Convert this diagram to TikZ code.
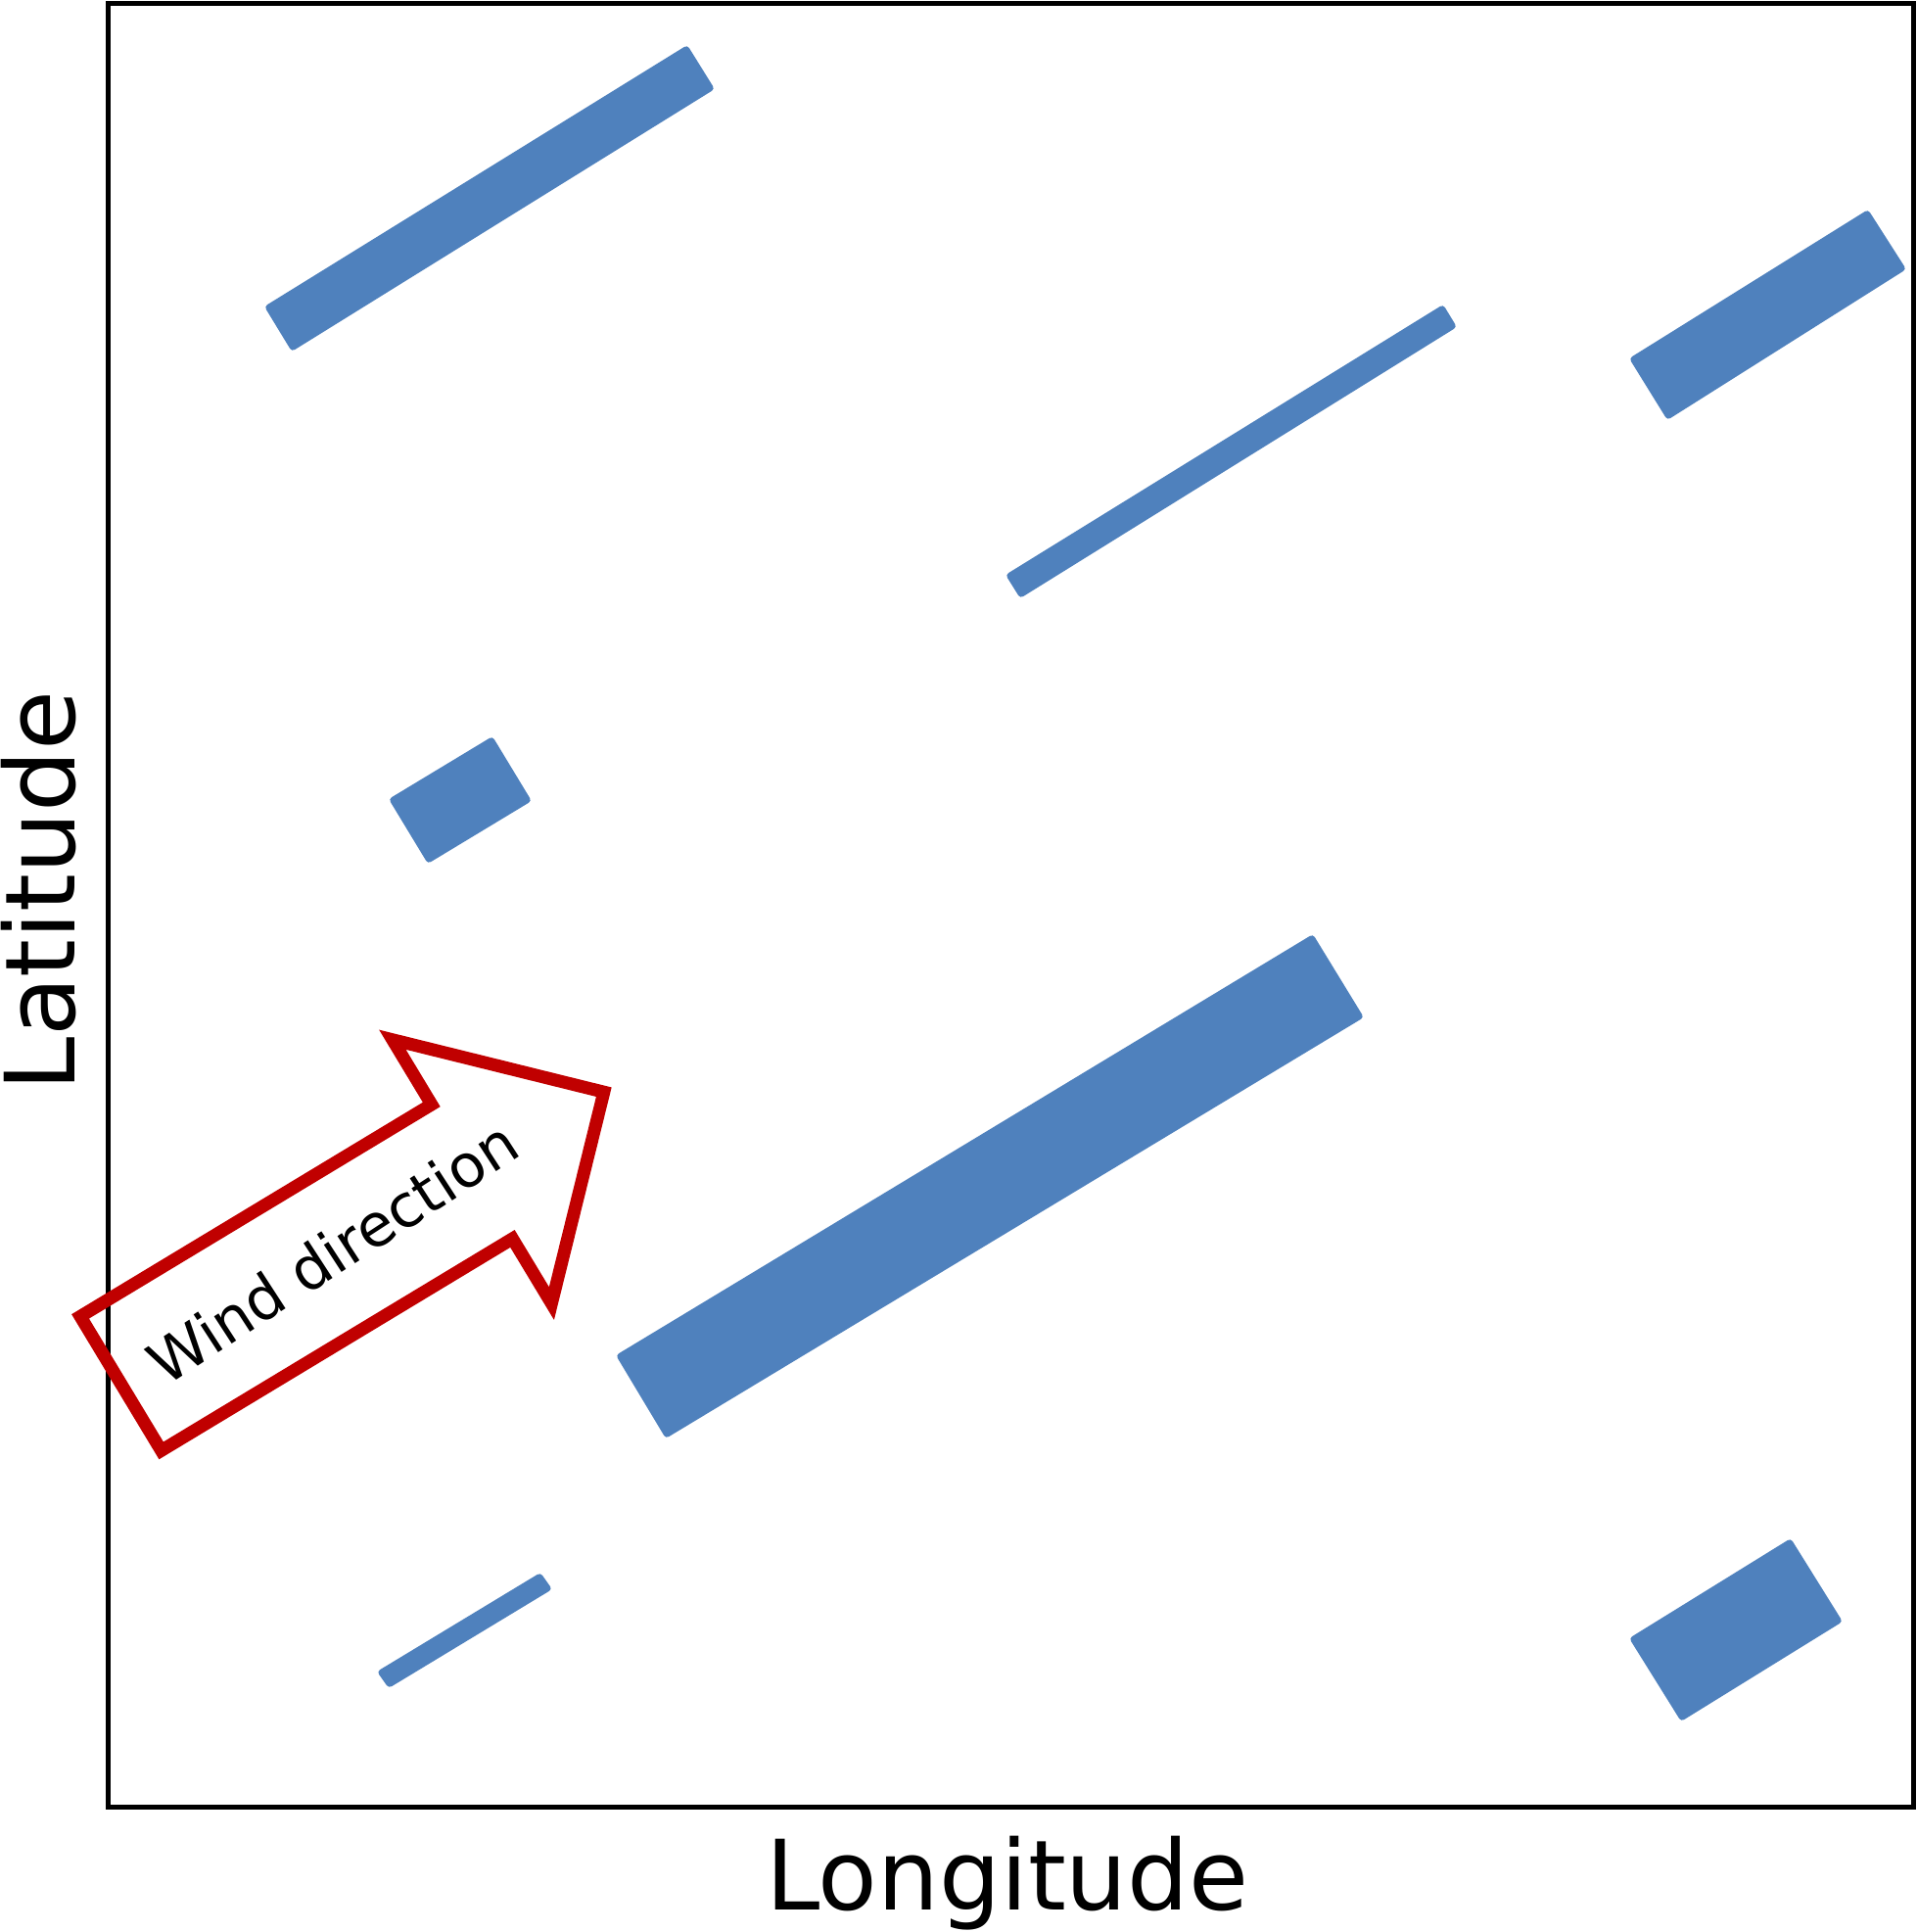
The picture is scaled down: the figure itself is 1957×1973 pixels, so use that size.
\documentclass[tikz,border=0pt]{standalone}
\usepackage{fontspec}
\setmainfont{DejaVu Sans}
\definecolor{barblue}{RGB}{79,129,189}
\definecolor{windred}{RGB}{192,0,0}
\begin{document}
\begin{tikzpicture}[x=0.01cm,y=-0.01cm,
  bar/.style={fill=barblue, draw=none, rounded corners=1pt},
  plotframe/.style={draw=black, line width=0.05cm},
  windarrow/.style={draw=windred, line width=0.13cm, line join=miter, fill=none},
  axislabel/.style={font=\fontsize{28.2}{34}\selectfont, inner sep=0pt}]
\useasboundingbox (0,0) rectangle (1957,1973);
\draw[plotframe] (110,4) rectangle (1954,1845.5);
% blue bars
\fill[bar] (270,313) -- (702,46) -- (730,91) -- (298,359) -- cycle;
\fill[bar] (1027,587) -- (1474,311) -- (1488,334) -- (1042,611) -- cycle;
\fill[bar] (1664,366) -- (1908,214) -- (1947,275) -- (1703,429) -- cycle;
\fill[bar] (397,816) -- (503,752) -- (543,818) -- (437,882) -- cycle;
\fill[bar] (629,1384) -- (1341,954) -- (1393,1039) -- (680,1469) -- cycle;
\fill[bar] (385,1707) -- (552,1606) -- (564,1623) -- (397,1724) -- cycle;
\fill[bar] (1664,1673) -- (1829,1571) -- (1882,1656) -- (1717,1758) -- cycle;
% wind arrow
\begin{scope}[shift={(116.75,1414.5)}, rotate=31.1]
\draw[windarrow] (6.5,-78) -- (425.5,-78) -- (425.5,-155.3) -- (582.8,2)
  -- (425.5,159.3) -- (425.5,82) -- (6.5,82) -- cycle;
\node[rotate=33, font=\fontsize{17.2}{20}\selectfont, inner sep=0pt] (windtext) at (261,-1) {Wind direction};
\end{scope}
% axis labels
\node[axislabel, rotate=90, anchor=base] (lat) at (76,910) {Latitude};
\node[axislabel, anchor=base] (lon) at (1029,1950.7) {Longitude};
\end{tikzpicture}
\end{document}
